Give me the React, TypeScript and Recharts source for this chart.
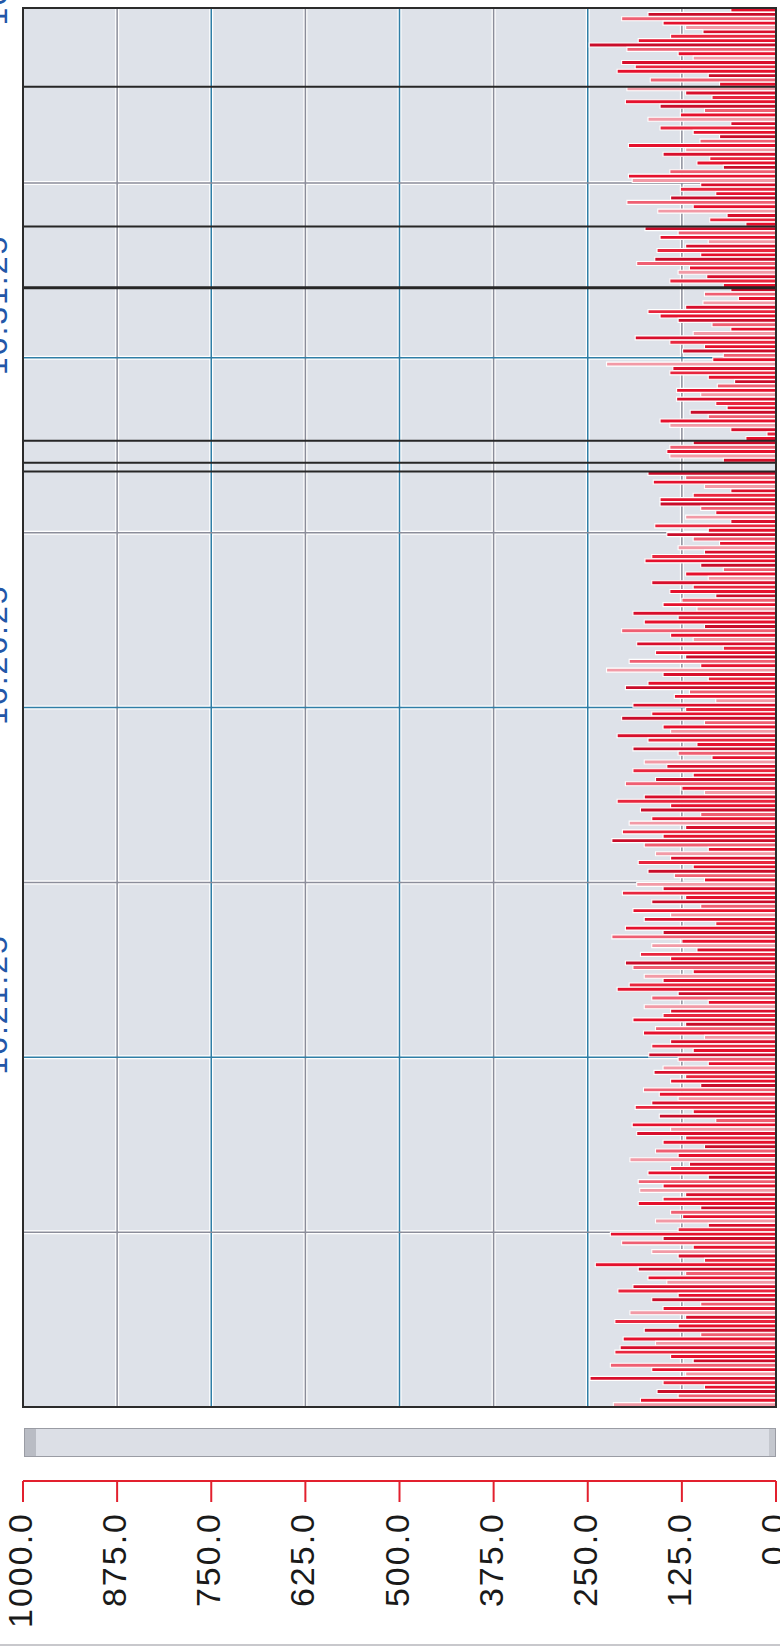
import React from 'react';
import {
  BarChart,
  Bar,
  Cell,
  XAxis,
  YAxis,
  CartesianGrid,
  ReferenceLine,
  ReferenceArea,
} from 'recharts';

// sample values read top to bottom (latest sample first)
const values: number[] = [
  60, 170, 205, 150, 120, 97, 140, 183, 248, 198, 130, 110, 205, 187, 211, 90, 167, 75, 198, 120,
  85, 200, 154, 95, 127, 170, 60, 154, 110, 75, 101, 196, 120, 150, 88, 105, 70, 141, 196, 191,
  100, 127, 80, 140, 198, 110, 157, 65, 88, 40, 174, 130, 154, 90, 120, 158, 100, 161, 185, 115,
  130, 92, 141, 70, 60, 95, 50, 97, 120, 170, 154, 130, 85, 60, 110, 187, 141, 95, 124, 70,
  84, 225, 137, 141, 90, 55, 78, 132, 100, 132, 80, 65, 114, 90, 154, 141, 60, 12, 40, 110,
  141, 145, 141, 70, 0, 0, 170, 120, 163, 95, 60, 110, 154, 154, 100, 80, 120, 60, 161, 90,
  145, 110, 75, 130, 95, 165, 174, 100, 70, 120, 90, 165, 110, 141, 80, 125, 150, 105, 190, 130,
  175, 95, 205, 140, 110, 185, 70, 160, 120, 195, 100, 225, 150, 90, 170, 200, 115, 135, 80, 190,
  120, 165, 205, 95, 150, 140, 211, 170, 105, 190, 130, 85, 175, 145, 190, 110, 160, 200, 125, 95,
  175, 211, 140, 180, 100, 165, 195, 120, 204, 150, 218, 175, 90, 160, 140, 183, 110, 170, 135, 95,
  185, 150, 204, 120, 165, 100, 190, 140, 175, 80, 200, 150, 218, 125, 165, 105, 180, 140, 200, 190,
  110, 175, 150, 195, 211, 130, 165, 90, 175, 140, 150, 190, 120, 160, 176, 95, 140, 165, 110, 169,
  130, 90, 150, 162, 120, 140, 100, 176, 155, 130, 165, 187, 110, 155, 80, 191, 140, 185, 120, 150,
  95, 160, 130, 194, 115, 140, 170, 90, 183, 150, 181, 120, 150, 183, 100, 140, 124, 160, 90, 130,
  220, 150, 205, 110, 165, 130, 95, 240, 183, 120, 170, 145, 190, 210, 130, 165, 100, 150, 194, 120,
  214, 130, 175, 100, 203, 160, 207, 214, 140, 110, 220, 165, 120, 247, 150, 95, 158, 130, 180, 216,
];

// newest timestamp at the top, one sample every 3.75 s
const LAST_SAMPLE = 16 * 3600 + 36 * 60 + 25;
const SAMPLE_STEP = 3.75;

const pad = (n: number) => String(n).padStart(2, '0');
const clock = (s: number) => {
  const t = Math.floor(s);
  return `${pad(Math.floor(t / 3600))}:${pad(Math.floor((t % 3600) / 60))}:${pad(t % 60)}`;
};

const times = values.map((_, i) => clock(LAST_SAMPLE - i * SAMPLE_STEP));
const data = values.map((v, i) => ({ time: times[i], v }));

const valueTicks = [0, 125, 250, 375, 500, 625, 750, 875, 1000];
const blueValueLines = [250, 500, 750];
const grayValueLines = [125, 375, 625, 875];
const timeTickLabels = ['16:36:25', '16:31:25', '16:26:25', '16:21:25'];
const majorTimeRows = [80, 160, 240];
const minorTimeRows = [40, 120, 200, 280];
const sessionBreakRows = [18, 50, 64, 99, 104, 106];

const barShades = ['#e5112d', '#c90d2a', '#ef5f72', '#e5112d', '#f29aa6', '#d80f2c', '#e8263e'];

const FONT = '"Liberation Sans", Arial, sans-serif';
const GRID_BLUE = '#2f7ea6';
const GRID_GRAY = '#8b8d9a';
const VAL_AXIS = 'b_value';

const ValueTick = ({ x, y, payload }: any) => {
  const tx = x - 3;
  return (
    <text
      x={tx}
      y={y}
      transform={`rotate(-90, ${tx}, ${y})`}
      textAnchor="end"
      dominantBaseline="central"
      fontSize={34}
      letterSpacing={2}
      fontFamily={FONT}
      fill="#1a1a1a"
    >
      {Number(payload.value).toFixed(1)}
    </text>
  );
};

const TimeTick = ({ x, y, payload }: any) => {
  const tx = x - 27;
  const ty = y - 55;
  return (
    <text
      x={tx}
      y={ty}
      transform={`rotate(-90, ${tx}, ${ty})`}
      textAnchor="middle"
      dominantBaseline="central"
      fontSize={32}
      letterSpacing={2}
      fontFamily={FONT}
      fill="#2357a8"
    >
      {payload.value}
    </text>
  );
};

export default function App() {
  return (
    <div
      style={{
        position: 'absolute',
        left: 0,
        top: 0,
        width: 780,
        height: 1652,
        background: '#fff',
        overflow: 'hidden',
      }}
    >
      <BarChart
        width={780}
        height={1652}
        data={data}
        layout="vertical"
        margin={{ top: 8, right: 4, bottom: 0, left: 0 }}
        barCategoryGap={0}
        barGap={0}
      >
        <CartesianGrid xAxisId={VAL_AXIS} fill="#dee2e9" horizontal={false} vertical={false} />
        {/* empty axis: leaves room for the scrollbar under the plot */}
        <XAxis
          xAxisId="a_spacer"
          type="number"
          domain={[0, 1000]}
          reversed
          orientation="bottom"
          height={74}
          axisLine={false}
          tickLine={false}
          tick={false}
        />
        <XAxis
          xAxisId={VAL_AXIS}
          type="number"
          domain={[0, 1000]}
          reversed
          orientation="bottom"
          ticks={valueTicks}
          interval={0}
          height={171}
          axisLine={{ stroke: '#e2202e', strokeWidth: 2 }}
          tickLine={{ stroke: '#e2202e', strokeWidth: 2 }}
          tickSize={21}
          tickMargin={10}
          tick={<ValueTick />}
        />
        <YAxis
          type="category"
          dataKey="time"
          width={23}
          ticks={timeTickLabels}
          interval={0}
          axisLine={false}
          tickLine={false}
          tickSize={0}
          tickMargin={0}
          tick={<TimeTick />}
        />
        {[...grayValueLines, ...blueValueLines].map((v) => (
          <ReferenceLine
            key={`vh-${v}`}
            xAxisId={VAL_AXIS}
            x={v}
            stroke="#ffffff"
            strokeWidth={4}
            zIndex={-60}
          />
        ))}
        {[...minorTimeRows, ...majorTimeRows].map((r) => (
          <ReferenceLine
            key={`hh-${r}`}
            xAxisId={VAL_AXIS}
            y={times[r]}
            position="start"
            stroke="#ffffff"
            strokeWidth={4}
            zIndex={-60}
          />
        ))}
        {grayValueLines.map((v) => (
          <ReferenceLine key={`vg-${v}`} xAxisId={VAL_AXIS} x={v} stroke={GRID_GRAY} strokeWidth={1.5} zIndex={-55} />
        ))}
        {blueValueLines.map((v) => (
          <ReferenceLine key={`vb-${v}`} xAxisId={VAL_AXIS} x={v} stroke={GRID_BLUE} strokeWidth={1.5} zIndex={-55} />
        ))}
        {minorTimeRows.map((r) => (
          <ReferenceLine
            key={`hg-${r}`}
            xAxisId={VAL_AXIS}
            y={times[r]}
            position="start"
            stroke={GRID_GRAY}
            strokeWidth={1.5}
            zIndex={-55}
          />
        ))}
        {majorTimeRows.map((r) => (
          <ReferenceLine
            key={`hb-${r}`}
            xAxisId={VAL_AXIS}
            y={times[r]}
            position="start"
            stroke={GRID_BLUE}
            strokeWidth={1.5}
            zIndex={-55}
          />
        ))}
        <Bar
          dataKey="v"
          xAxisId={VAL_AXIS}
          isAnimationActive={false}
          stroke="#ffffff"
          strokeWidth={1.1}
        >
          {data.map((d, i) => (
            <Cell key={`bar-${i}`} fill={barShades[i % barShades.length]} />
          ))}
        </Bar>
        {sessionBreakRows.map((r) => (
          <ReferenceLine
            key={`brk-${r}`}
            xAxisId={VAL_AXIS}
            y={times[r]}
            position="start"
            stroke="#262626"
            strokeWidth={r === 64 ? 3 : 2}
            zIndex={450}
          />
        ))}
        <ReferenceArea
          xAxisId={VAL_AXIS}
          x1={1000}
          x2={0}
          fill="none"
          stroke="#2b2b2b"
          strokeWidth={2}
          ifOverflow="visible"
          zIndex={460}
        />
      </BarChart>
      {/* scrollbar strip between plot and value axis */}
      <div
        style={{
          position: 'absolute',
          left: 24,
          top: 1428,
          width: 750,
          height: 27,
          background: '#dcdfe6',
          border: '1px solid #9a9ca4',
        }}
      >
        <div style={{ position: 'absolute', left: 0, top: 0, width: 11, height: 27, background: '#b9bcc4' }} />
        <div style={{ position: 'absolute', right: 0, top: 0, width: 6, height: 27, background: '#c4c7ce' }} />
      </div>
      <div
        style={{
          position: 'absolute',
          left: 0,
          top: 1644,
          width: 780,
          height: 2,
          background: '#c8c8cc',
        }}
      />
    </div>
  );
}
